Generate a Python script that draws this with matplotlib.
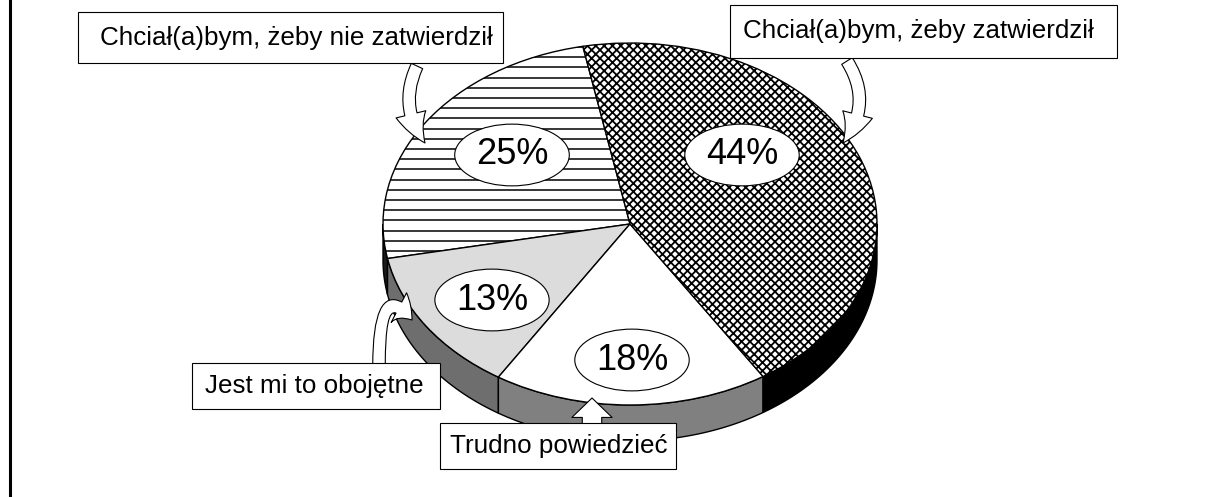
import numpy as np
import matplotlib.pyplot as plt
from matplotlib.patches import Polygon, Rectangle, FancyArrowPatch

plt.rcParams['font.family'] = ['Liberation Sans', 'DejaVu Sans']
plt.rcParams['hatch.linewidth'] = 1.3

# data
labels = ["Chciał(a)bym, żeby nie zatwierdził", "Jest mi to obojętne",
          "Trudno powiedzieć", "Chciał(a)bym, żeby zatwierdził"]
values = [25, 13, 18, 44]
top_colors = ['white', '#dcdcdc', 'white', 'white']
side_colors = ['#1a1a1a', '#6e6e6e', '#808080', '#000000']

W, H = 1208, 497
fig = plt.figure(figsize=(W / 100, H / 100), dpi=100)

# pie geometry (pixels): ellipse centre and radii, side depth
cx, cy = 630, 224
rx, ry = 247, 181
depth = 36 / ry
xl = (-1.1, 1.1)
yl = (-1.35, 1.1)
left, right = cx + xl[0] * rx, cx + xl[1] * rx
top, bottom = cy - yl[1] * ry, cy - yl[0] * ry
ax = fig.add_axes([left / W, 1 - bottom / H, (right - left) / W, (bottom - top) / H])

wedges, _ = ax.pie(values, colors=top_colors, startangle=101, counterclock=True,
                   wedgeprops=dict(edgecolor='black', linewidth=1.0))
ax.set_aspect('auto')
ax.set_xlim(*xl)
ax.set_ylim(*yl)
ax.axis('off')

# 3D side of the pie
for w, c in zip(wedges, side_colors):
    for lo, hi in [(180, 360), (540, 720)]:
        a, b = max(w.theta1, lo), min(w.theta2, hi)
        if b <= a:
            continue
        t = np.radians(np.linspace(a, b, 120))
        xs, ys = np.cos(t), np.sin(t)
        pts = np.column_stack([np.r_[xs, xs[::-1]], np.r_[ys, ys[::-1] - depth]])
        ax.add_patch(Polygon(pts, closed=True, fc=c, ec='black', lw=1.0, zorder=0.5))

# patterns: horizontal lines on 25%, crosshatch on 44%
for py in np.arange(47, 275, 10.2):
    yy = (cy - py) / ry
    ln, = ax.plot([-1.1, 1.1], [yy, yy], color='black', lw=1.1, zorder=1.5)
    ln.set_clip_path(wedges[0])
wedges[3].set_hatch('xxxx')

# overlay in pixel coordinates for labels and arrows
ov = fig.add_axes([0, 0, 1, 1])
ov.set_xlim(0, W)
ov.set_ylim(H, 0)
ov.axis('off')

pct_pos = [(512, 155), (492, 300), (632, 360), (742, 155)]
for v, (x, y) in zip(values, pct_pos):
    ov.text(x, y, f"{v}%", fontsize=26, ha='center', va='center', zorder=5,
            bbox=dict(boxstyle='ellipse,pad=0.12', fc='white', ec='black', lw=0.8))

# callout arrows (tail, tip, connection, style)
arrows = [((417, 66), (425, 143), "arc3,rad=0.3",
           "simple,head_length=23,head_width=22,tail_width=9"),
          ((379, 365), (412, 320), "angle3,angleA=90,angleB=-52",
           "simple,head_length=13,head_width=24,tail_width=9"),
          ((592, 425), (592, 398), "arc3,rad=0",
           "simple,head_length=14,head_width=29,tail_width=14"),
          ((847, 61), (843, 143), "arc3,rad=-0.35",
           "simple,head_length=23,head_width=22,tail_width=9")]
for p0, p1, conn, style in arrows:
    ov.add_patch(FancyArrowPatch(p0, p1, arrowstyle=style, connectionstyle=conn,
                                 mutation_scale=1, shrinkA=0, shrinkB=0,
                                 fc='white', ec='black', lw=0.8, zorder=3))

boxes = [(78, 12, 503, 63), (192, 363, 440, 409), (440, 423, 676, 469), (730, 5, 1117, 58)]
text_pos = [(296, 38), (314, 386), (559, 446), (918, 31)]
for lab, (x0, y0, x1, y1), (tx, ty) in zip(labels, boxes, text_pos):
    ov.add_patch(Rectangle((x0, y0), x1 - x0, y1 - y0, fc='white', ec='black', lw=0.8, zorder=4))
    ov.text(tx, ty, lab, fontsize=18.7, ha='center', va='center', zorder=5)

# left frame line
ov.plot([10, 10], [0, H], color='black', lw=2.2, clip_on=False)

fig.savefig('out.png', dpi=100)
